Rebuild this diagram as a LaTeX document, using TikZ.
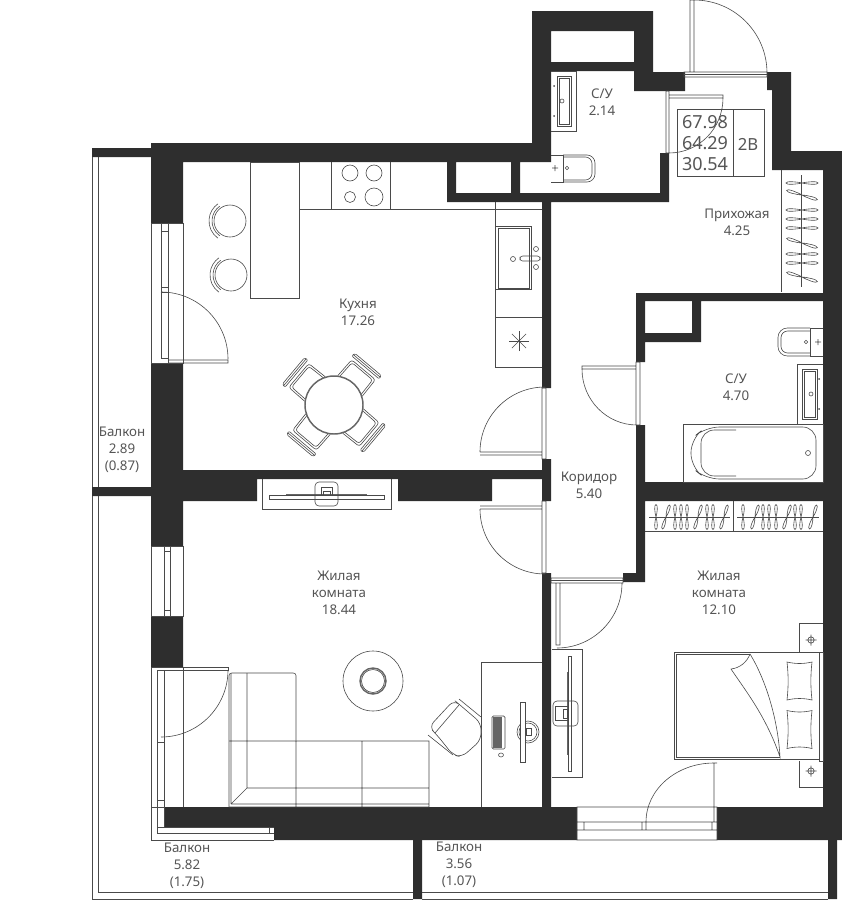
\documentclass[tikz,border=0pt]{standalone}
\usepackage{fontspec}
\setmainfont{Noto Sans}
\usepackage{tikz}
\definecolor{wallgray}{HTML}{2E2E2E}
\definecolor{linegray}{HTML}{4A4A4A}
\definecolor{textgray}{HTML}{555555}
\tikzset{
  wall/.style={fill=wallgray,draw=none},
  fixture/.style={draw=linegray,line width=0.45pt},
  heavy/.style={draw=linegray!85,line width=1.1pt},
  room/.style={align=center,inner sep=0pt,text=textgray,font=\fontsize{10}{12.75}\selectfont},
  stamp/.style={align=center,inner sep=0pt,text=textgray,font=\fontsize{13.5}{15.75}\selectfont},
  hanger/.pic={\draw[fixture] (0,0) .. controls (-5,-1.2) and (-16,-2.2) .. (-16,0) .. controls (-16,2.2) and (-5,1.2) .. (0,0)
      .. controls (5,-1.2) and (16,-2.2) .. (16,0) .. controls (16,2.2) and (5,1.2) .. (0,0);},
  shorthanger/.pic={\draw[fixture] (0,0) .. controls (-4,-1.2) and (-12.5,-2.2) .. (-12.5,0) .. controls (-12.5,2.2) and (-4,1.2) .. (0,0)
      .. controls (4,-1.2) and (12.5,-2.2) .. (12.5,0) .. controls (12.5,2.2) and (4,1.2) .. (0,0);},
  dinechair/.pic={
    \draw[fixture,rounded corners=2pt] (25,-16)--(46,-15.5)--(46,15.5)--(25,16);
    \draw[fixture,rounded corners=2pt] (25,-14)--(44,-13.5)--(44,13.5)--(25,14);
    \draw[fixture,rounded corners=1pt] (49,-18)--(53,-17)--(53,17)--(49,18)--cycle;
    \draw[fixture] (51,-17.5)--(51,17.5);},
  barstool/.pic={
    \draw[fixture] (0,0) circle (16);
    \draw[fixture] (0,0) ++(125:18) arc [start angle=125,end angle=235,radius=18];
    \draw[fixture] (0,0) ++(125:21) arc [start angle=125,end angle=235,radius=21];},
  pillow/.pic={\draw[fixture] (-12.5,-19) .. controls (-4,-17) and (4,-17) .. (12.5,-19) .. controls (11,-6) and (11,6) .. (12.5,19)
      .. controls (4,17) and (-4,17) .. (-12.5,19) .. controls (-11,6) and (-11,-6) .. cycle;},
  socket/.pic={\draw[fixture] (0,0) circle (3.2) (-5.5,0)--(5.5,0) (0,-5.5)--(0,5.5);},
}
\begin{document}
\begin{tikzpicture}[x=0.75pt,y=-0.75pt]
\useasboundingbox (0,0) rectangle (842,900);
% walls
\fill[wall,even odd rule] (151,143)--(532,143)--(532,11)--(653,11)--(653,72)--(685,72)--(685,91)--(634,91)--(634,71)--(551,71)--(551,162)
  --(520,162)--(520,193)--(660,193)--(660,153)--(669,153)--(669,202)--(551,202)--(551,388)--(542,388)--(542,202)--(447,202)--(447,162)
  --(183,162)--(183,223)--(151,223)--cycle
  (456,162) rectangle (511,193) (551,31) rectangle (634,62);
\fill[wall] (92,148) rectangle (151,157) (92,487) rectangle (151,496) (151,616) rectangle (183,667);
\fill[wall] (151,363)--(183,363)--(183,470)--(542,470)--(542,459)--(551,459)--(551,501)--(542,501)--(542,479)--(492,479)--(492,501)
  --(398,501)--(398,479)--(257,479)--(257,501)--(183,501)--(183,546)--(151,546)--cycle;
\fill[wall] (164,807)--(577,807)--(577,840)--(274,840)--(274,827)--(164,827)--cycle;
\fill[wall] (767,72)--(791,72)--(791,151)--(842,151)--(842,840)--(717,840)--(717,807)--(823,807)--(823,170)--(772,170)--(772,90)--(767,90)--cycle;
\fill[wall,even odd rule] (636,293)--(823,293)--(823,301)--(701,301)--(701,342)--(645,342)--(645,362)--(636,362)--cycle (645,301) rectangle (692,333);
\fill[wall] (636,425)--(645,425)--(645,482)--(823,482)--(823,501)--(645,501)--(645,582)--(623,582)--(623,573)--(636,573)--cycle;
\fill[wall] (542,573) rectangle (551,807) (413,840) rectangle (422,899) (828,840) rectangle (837,899);
% balcony rails
\draw[fixture] (92,157)--(92,487) (98,157)--(98,487) (92,496)--(92,899)--(413,899) (98,496)--(98,892)--(413,892)
  (422,892)--(828,892) (422,899)--(828,899);
% windows and doors
\draw[fixture] (151,223) rectangle (183,363) (161,223)--(161,358) (168,223)--(168,363) (161,231)--(168,231) (161,287)--(168,287) (161,292)--(168,292) (161,358)--(168,358);
\draw[fixture] (168,360)--(228,360)--(228,363)--(168,363) (161,292) arc [start angle=-90,end angle=0,radius=67];
\draw[fixture] (151,546) rectangle (183,616) (164,546)--(164,616) (170,546)--(170,616) (164,551)--(170,551) (164,610)--(170,610);
\draw[fixture] (151,667)--(151,840)--(274,840) (151,667)--(228,667)--(228,670)--(157,670)--(157,833)--(274,833) (164,670)--(164,827)--(274,827) (183,667)--(183,807) (151,807)--(164,807)
  (157,742)--(164,742) (157,800)--(164,800) (157,827)--(164,827) (269,827)--(269,833);
\draw[fixture] (228,670) arc [start angle=0,end angle=90,radius=67];
\draw[fixture] (542,388) rectangle (546,459) (480,452)--(542,452) (480,455)--(542,455) (480,452) arc [start angle=180,end angle=270,radius=65];
\draw[fixture] (542,501) rectangle (546,573) (480,506)--(542,506) (480,509)--(542,509) (480,509) arc [start angle=180,end angle=90,radius=65];
\draw[fixture] (684,72) rectangle (767,77) (684,74.5)--(767,74.5) (690,0) rectangle (694,72) (694,0) arc [start angle=-90,end angle=0,radius=73];
\draw[fixture] (666,91) rectangle (669,153) (669,95) rectangle (723,98) (723,98) arc [start angle=0,end angle=90,x radius=54,y radius=55];
\draw[fixture] (636,362) rectangle (640,425) (582,366) rectangle (636,369) (582,369) arc [start angle=180,end angle=90,x radius=55,y radius=56];
\draw[fixture] (551,578) rectangle (623,583) (551,580.5)--(623,580.5) (556,583) rectangle (560,645) (622,583) arc [start angle=0,end angle=90,radius=65];
\draw[fixture] (577,807) rectangle (717,840) (577,822)--(717,822) (577,830)--(717,830) (584,822)--(584,830) (642,822)--(642,830) (646,822)--(646,830) (712,822)--(712,830)
  (714,763)--(714,822) (717,763)--(714,763) (646,822) arc [start angle=180,end angle=270,x radius=68,y radius=59];
% kitchen
\draw[fixture] (250,162) rectangle (299,298) (299,209)--(542,209) (331,162)--(331,209) (390,162)--(390,209);
\draw[fixture] (350,173) circle (8) (374,173) circle (8) (350,197) circle (5.5) (374,197) circle (9);
\draw[fixture] (495,202)--(495,367)--(542,367) (495,317)--(542,317) (496,226)--(531,226)--(531,289)--(496,289) (498,228) rectangle (529,288);
\draw[fixture,rounded corners=2pt] (520,256) rectangle (540,261);
\draw[fixture] (536,249) circle (2.5) (536,267) circle (2.5) (513,259) circle (2.5);
\foreach \a in {0,45,90,135} \draw[fixture] (519,341) ++(\a:10) -- ++(\a+180:20);
\pic at (230,221) {barstool};
\pic at (231,275) {barstool};
\foreach \a in {50,140,230,320} \pic[shift={(334,405)},rotate=\a] {dinechair};
\draw[heavy,fill=white] (334,405) circle (29);
% bath at the entrance
\draw[fixture] (551,71)--(576,71)--(576,131)--(551,131) (557,76) rectangle (571,126) (559,78) rectangle (569,124);
\fill[linegray] (554,86) circle (1) (554,116) circle (1);
\draw[fixture] (562,101) circle (2);
\draw[fixture,rounded corners=6pt] (563,155)--(595,155)--(595,182)--(563,182);
\draw[fixture,rounded corners=5pt] (563,157)--(592,157)--(592,180)--(563,180);
\draw[fixture] (551,155)--(563,155)--(563,182)--(551,182);
\draw[fixture] (567,168) circle (1.8) (552,168)--(558,168) (555,165)--(555,171);
% hall
\draw[fixture] (781,170)--(781,292) (801,175)--(801,287);
\foreach \y/\t in {183/0,195/-17,210/0,219/0,228/0,243/-17,254/0,263/0,277/-17} \pic[rotate=\t] at (802,\y) {hanger};
\draw[fixture] (677,109) rectangle (764,176) (733,109)--(733,176);
% big bathroom
\draw[fixture] (683,424) rectangle (823,482);
\draw[fixture,rounded corners=10pt] (736,427)--(816,427)--(816,479)--(706,479)--(691,467)--(691,439)--(706,427)--cycle;
\draw[fixture,rounded corners=10pt] (736,430)--(701,430)--(701,476)--(736,476);
\draw[fixture] (808,453) circle (2.5);
\draw[fixture] (797,424)--(797,364)--(823,364) (802,369) rectangle (817,419) (804,371) rectangle (815,417);
\fill[linegray] (819,379) circle (1) (819,409) circle (1);
\draw[fixture] (811,394) circle (2);
\draw[fixture,rounded corners=7pt] (810,328)--(778,328)--(778,356)--(810,356);
\draw[fixture,rounded corners=5pt] (810,331)--(781,331)--(781,353)--(810,353);
\draw[fixture] (810,328)--(823,328) (810,356)--(823,356) (810,328)--(810,356);
\draw[fixture] (806,342) circle (1.8) (815,342)--(821,342) (818,339)--(818,345);
% wardrobe in the bedroom
\draw[fixture] (645,531)--(823,531) (733,501)--(733,531) (649,517)--(730,517) (737,517)--(819,517);
\foreach \x/\t in {656/0,666/-17,675/0,681/0,687/0,698/-17,707/0,713/0,724/-17,743/0,755/-17,763/0,769/0,776/0,787/-17,795/0,801/0,813/-17}
  \pic[rotate=90+\t] at (\x,517) {shorthanger};
% living room
\draw[fixture] (262,479)--(262,509)--(391,509)--(391,479) (269,495) rectangle (384,499);
\draw[heavy,line width=0.7pt] (286,494)--(367,494);
\draw[fixture,rounded corners=3pt] (315,482) rectangle (338,506);
\draw[fixture] (321,487) rectangle (332,495) (323,491) rectangle (330,495);
\draw[fixture,rounded corners=2pt] (229,807)--(229,673)--(296,673)--(296,741);
\draw[fixture] (231,673)--(231,804) (247,673)--(247,788) (229,741)--(429,741)--(429,807) (296,741)--(296,807) (362,741)--(362,807)
  (247,788)--(429,788) (231,804)--(429,804) (247,788)--(231,804) (229,807)--(429,807);
\draw[fixture] (373,681) circle (30);
\draw[heavy] (373,681) circle (13);
\draw[fixture] (373,681) circle (11.5);
\draw[fixture] (481,807)--(481,662)--(542,662);
\draw[fixture,fill=white,rounded corners=5pt] (429,727)--(454,700)--(460,705)--(481,723)--(481,740)--(462,757)--(453,755)--(437,735)--cycle;
\draw[fixture] (459,699)--(481,717) (428,735)--(453,755) (435,733)--(459,705);
\draw[fixture,rounded corners=1pt] (492,716) rectangle (505,749);
\fill[linegray!85] (492.5,717) rectangle (502,748);
\draw[fixture] (501,755) ellipse (2.5 and 2);
\draw[fixture] (528,732) circle (11) (528,732) circle (9);
\draw[fixture,fill=white] (520,702) rectangle (525,762);
\draw[fixture] (526,728) rectangle (531,735);
% bedroom
\draw[fixture] (552,649)--(582,649)--(582,777)--(552,777) (568,656) rectangle (571,771);
\draw[heavy,line width=0.7pt] (567,672)--(567,755);
\draw[fixture,rounded corners=3pt] (553,701) rectangle (578,726);
\draw[fixture] (555,706) rectangle (568,720) (563,709) rectangle (567,718);
\draw[fixture] (674,652) rectangle (819,759) (780,757)--(676,757)--(676,654)--(750,654) (819,652) rectangle (823,761);
\draw[fixture] (750,654) .. controls (766,680) and (778,720) .. (780,757) .. controls (766,716) and (745,690) .. (731,669) .. controls (740,668) and (747,662) .. (750,654);
\pic at (799.5,681) {pillow};
\pic at (799.5,729.5) {pillow};
\draw[fixture] (823,623)--(799,623)--(799,652) (799,761)--(799,787)--(823,787);
\pic at (811,640) {socket};
\pic at (811,771) {socket};
% room labels
\node[room] (toilet) at (602,102.5) {С/У\\2.14};
\node[room] (hall) at (737,222.5) {Прихожая\\4.25};
\node[room] (kitchen) at (358,312.5) {Кухня\\17.26};
\node[room] (balconyA) at (122,450) {Балкон\\2.89\\(0.87)};
\node[room] (corridor) at (589,485.5) {Коридор\\5.40};
\node[room] (bathroom) at (736,387.5) {С/У\\4.70};
\node[room] (livingroom) at (339,593) {Жилая\\комната\\18.44};
\node[room] (bedroom) at (719,593) {Жилая\\комната\\12.10};
\node[room] (balconyB) at (187,865.5) {Балкон\\5.82\\(1.75)};
\node[room] (balconyC) at (459,864.5) {Балкон\\3.56\\(1.07)};
\node[stamp] (areas) at (705,143) {67.98\\64.29\\30.54};
\node[room,font=\fontsize{12.5}{15}\selectfont] (flattype) at (748,144) {2В};
\end{tikzpicture}
\end{document}
